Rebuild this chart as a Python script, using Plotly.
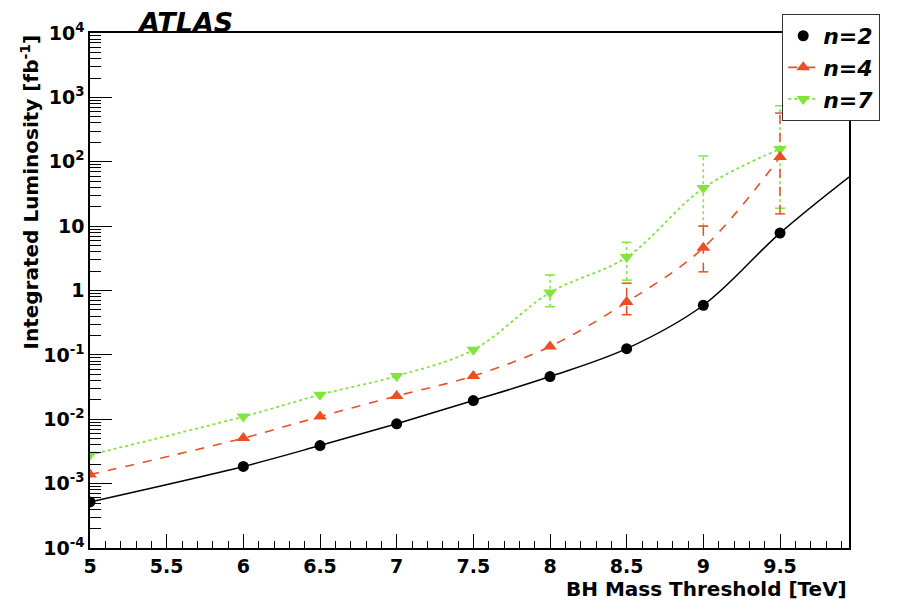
import plotly.graph_objects as go

# ---- data ----
mass = [5.0, 6.0, 6.5, 7.0, 7.5, 8.0, 8.5, 9.0, 9.5]
lumi_n2 = [5.2e-4, 1.85e-3, 3.9e-3, 8.5e-3, 0.0195, 0.046, 0.125, 0.59, 7.8]
lumi_n4 = [1.38e-3, 5.1e-3, 0.011, 0.023, 0.047, 0.135, 0.66, 4.6, 118]
lumi_n7 = [2.8e-3, 0.011, 0.024, 0.047, 0.12, 0.93, 3.3, 39, 158]
n4_up = [None, None, None, None, None, None, 1.3, 10, 570]
n4_lo = [None, None, None, None, None, None, 0.42, 1.95, 15.5]
n7_up = [None, None, None, None, None, 1.74, 5.6, 123, 740]
n7_lo = [None, None, None, None, None, 0.56, 1.45, 10, 19]
fit_x = [5.0, 6.0, 6.5, 7.0, 7.5, 8.0, 8.5, 9.0, 9.5, 9.95]
fit_n2 = [5.2e-4, 1.85e-3, 3.9e-3, 8.5e-3, 0.0195, 0.046, 0.125, 0.59, 7.8, 58]
xticks = [5, 5.5, 6, 6.5, 7, 7.5, 8, 8.5, 9, 9.5]
xticklabels = ["5", "5.5", "6", "6.5", "7", "7.5", "8", "8.5", "9", "9.5"]
ytickvals = [1e-4, 1e-3, 1e-2, 1e-1, 1, 10, 1e2, 1e3, 1e4]
yticklabels = ["10<sup>-4</sup>", "10<sup>-3</sup>", "10<sup>-2</sup>", "10<sup>-1</sup>",
               "1", "10", "10<sup>2</sup>", "10<sup>3</sup>", "10<sup>4</sup>"]

RED = "#ee4e22"
GREEN = "#80e63c"
FONT = "DejaVu Sans"


def err_segments(xs, lo, up):
    sx, sy = [], []
    for x, l, u in zip(xs, lo, up):
        if l is None or u is None:
            continue
        sx += [x, x, None]
        sy += [l, u, None]
    return sx, sy


def caps(xs, lo, up):
    cx, cy = [], []
    for x, l, u in zip(xs, lo, up):
        if l is None or u is None:
            continue
        cx += [x, x]
        cy += [l, u]
    return cx, cy


fig = go.Figure()

# error bars (drawn first, under markers)
for lo, up, col, dash in [(n7_lo, n7_up, GREEN, "dot"), (n4_lo, n4_up, RED, "dash")]:
    sx, sy = err_segments(mass, lo, up)
    fig.add_trace(go.Scatter(x=sx, y=sy, mode="lines", line=dict(color=col, width=1.5, dash=dash),
                             showlegend=False, hoverinfo="skip"))
    cx, cy = caps(mass, lo, up)
    fig.add_trace(go.Scatter(x=cx, y=cy, mode="markers",
                             marker=dict(symbol="line-ew", size=7, line=dict(color=col, width=1.5)),
                             showlegend=False, hoverinfo="skip"))

# n=2 fit curve
fig.add_trace(go.Scatter(x=fit_x, y=fit_n2, mode="lines", line=dict(color="black", width=1.5, shape="spline"),
                         showlegend=False, hoverinfo="skip"))
# n=7
fig.add_trace(go.Scatter(
    x=mass, y=lumi_n7, mode="lines+markers", name="<b><i>n=7</i></b>",
    line=dict(color=GREEN, width=1.8, dash="dot", shape="spline"),
    marker=dict(symbol="triangle-down", size=12, color=GREEN),
))
# n=4
fig.add_trace(go.Scatter(
    x=mass, y=lumi_n4, mode="lines+markers", name="<b><i>n=4</i></b>",
    line=dict(color=RED, width=1.6, dash="dash", shape="spline"),
    marker=dict(symbol="triangle-up", size=12, color=RED),
))
# n=2 markers
fig.add_trace(go.Scatter(
    x=mass, y=lumi_n2, mode="markers", name="<b><i>n=2</i></b>",
    marker=dict(symbol="circle", size=11, color="black"),
))

minor_y = [k * 10.0 ** e for e in range(-4, 4) for k in range(2, 10)]

fig.update_layout(
    width=899, height=603,
    margin=dict(l=90, r=50, t=33, b=55),
    paper_bgcolor="white", plot_bgcolor="white",
    font=dict(family=FONT, color="black", size=18),
    showlegend=True,
    legend=dict(x=0.912, y=1.037, xanchor="left", yanchor="top",
                bgcolor="white", bordercolor="#333", borderwidth=1,
                font=dict(family=FONT, size=22, color="black"),
                traceorder="reversed", tracegroupgap=0, itemwidth=30),
    xaxis=dict(range=[5, 9.95], tickmode="array", tickvals=xticks, ticktext=xticklabels,
               ticks="inside", ticklen=14, tickwidth=1, tickcolor="black",
               showline=True, linecolor="black", linewidth=1.5, mirror=True,
               showgrid=False, zeroline=False,
               tickfont=dict(family=FONT, size=19, weight="bold"),
               minor=dict(dtick=0.1, ticks="inside", ticklen=7, tickcolor="black", showgrid=False)),
    yaxis=dict(type="log", range=[-4, 4], tickmode="array", tickvals=ytickvals, ticktext=yticklabels,
               ticks="inside", ticklen=22, tickwidth=1, tickcolor="black",
               showline=True, linecolor="black", linewidth=1.5, mirror=True,
               showgrid=False, zeroline=False,
               tickfont=dict(family=FONT, size=19, weight="bold"),
               minor=dict(tickvals=minor_y, ticks="inside", ticklen=11, tickcolor="black", showgrid=False)),
    annotations=[
        dict(text="<b><i>ATLAS</i></b>", xref="paper", yref="paper", x=0.059, y=1.0,
             xanchor="left", yanchor="bottom", yshift=-7, showarrow=False,
             font=dict(family=FONT, size=27, color="black")),
        dict(text="<b>BH Mass Threshold [TeV]</b>", xref="paper", yref="paper", x=1.0, y=0,
             xanchor="right", yanchor="top", yshift=-27, showarrow=False,
             font=dict(family=FONT, size=20, color="black")),
        dict(text="<b>Integrated Luminosity [fb<sup>-1</sup>]</b>", xref="paper", yref="paper",
             x=0, y=1.0, xanchor="right", yanchor="top", xshift=-46, yshift=0, textangle=-90, showarrow=False,
             font=dict(family=FONT, size=20, color="black")),
    ],
)

fig.write_html("out.html")
